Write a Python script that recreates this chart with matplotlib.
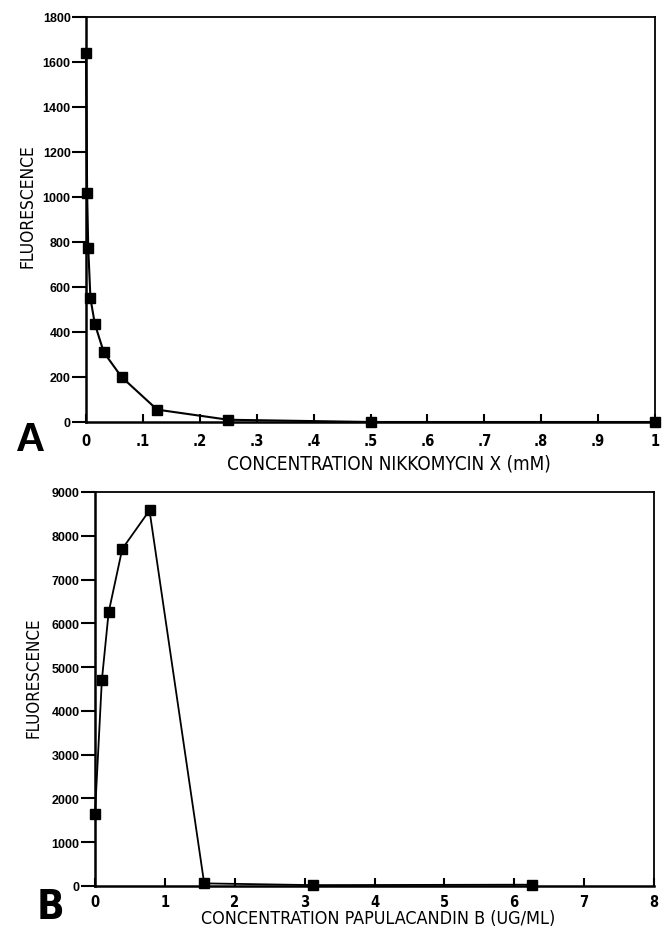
import matplotlib
matplotlib.use("Agg")
import matplotlib.pyplot as plt
import numpy as np

# ---- data ----
nikko_conc = [0, 0.00195, 0.0039, 0.0078, 0.0156, 0.03125, 0.0625, 0.125, 0.25, 0.5, 1.0]
nikko_fluor = [1640, 1020, 775, 550, 435, 310, 200, 55, 10, 0, 0]
papu_conc = [0, 0.098, 0.195, 0.39, 0.78, 1.5625, 3.125, 6.25]
papu_fluor = [1650, 4700, 6250, 7700, 8580, 60, 20, 30]

top_xticks = [0, .1, .2, .3, .4, .5, .6, .7, .8, .9, 1]
top_xlabels = ["0", ".1", ".2", ".3", ".4", ".5", ".6", ".7", ".8", ".9", "1"]
top_yticks = list(range(0, 1801, 200))
bot_xticks = list(range(0, 9))
bot_xlabels = [str(v) for v in bot_xticks]
bot_yticks = list(range(0, 9001, 1000))

NARROW = ["Liberation Sans Narrow", "DejaVu Sans"]
REG = ["Liberation Sans", "DejaVu Sans"]

fig = plt.figure(figsize=(6.62, 9.28), dpi=100)
renderer = fig.canvas.get_renderer()

def fit_text(x, y, s, width_px, fs0=14, **kw):
    t = fig.text(x, y, s, fontsize=fs0, fontstretch="condensed", **kw)
    w = t.get_window_extent(renderer).width
    if kw.get("rotation", 0) == 90:
        w = t.get_window_extent(renderer).height
    t.set_fontsize(fs0 * width_px / w)
    return t

def style(ax, xticks, xlabels, yticks, xpad):
    ax.set_xticks(xticks)
    ax.set_xticklabels(xlabels, fontfamily=NARROW, fontweight="bold", fontsize=10.5,
                       fontstretch="condensed")
    ax.set_yticks(yticks)
    ax.set_yticklabels([str(v) for v in yticks], fontfamily=REG, fontweight="bold", fontsize=9)
    ax.tick_params(axis="x", direction="in", length=6, width=1.5, pad=xpad, top=False)
    ax.tick_params(axis="y", direction="out", length=10, width=1.5, pad=1, right=False)
    for s in ["left", "bottom"]:
        ax.spines[s].set_linewidth(1.8)
    for s in ["top", "right"]:
        ax.spines[s].set_linewidth(1.3)

# top panel
ax1 = fig.add_axes([86/662, 1-423/928, (655-86)/662, (423-18)/928])
ax1.plot(nikko_conc, nikko_fluor, color="black", lw=1.5, marker="s", ms=6.5,
         mfc="black", mec="black", clip_on=False, zorder=5)
ax1.set_xlim(0, 1)
ax1.set_ylim(0, 1800)
style(ax1, top_xticks, top_xlabels, top_yticks, 8)

# bottom panel
ax2 = fig.add_axes([95/662, 1-887/928, (654-95)/662, (887-493)/928])
ax2.plot(papu_conc, papu_fluor, color="black", lw=1.3, marker="s", ms=6.5,
         mfc="black", mec="black", clip_on=False, zorder=5)
ax2.set_xlim(0, 8)
ax2.set_ylim(0, 9000)
style(ax2, bot_xticks, bot_xlabels, bot_yticks, 5.5)

# axis titles
fit_text(389/662, 1-464/928, "CONCENTRATION NIKKOMYCIN X (mM)", 327,
         fontfamily=NARROW, ha="center", va="center")
fit_text(378/662, 1-919/928, "CONCENTRATION PAPULACANDIN B (UG/ML)", 357,
         fontfamily=NARROW, ha="center", va="center")
fit_text(27/662, 1-206/928, "FLUORESCENCE", 125, fontfamily=NARROW,
         rotation=90, ha="center", va="center")
fit_text(34/662, 1-678/928, "FLUORESCENCE", 121, fontfamily=NARROW,
         rotation=90, ha="center", va="center")

# panel letters
fig.text(31/662, 1-440/928, "A", fontfamily=REG, fontweight="bold", fontsize=29,
         ha="center", va="center")
fig.text(50/662, 1-908/928, "B", fontfamily=NARROW, fontweight="bold", fontsize=29,
         fontstretch="condensed", ha="center", va="center")

fig.savefig("out.png", dpi=100)
